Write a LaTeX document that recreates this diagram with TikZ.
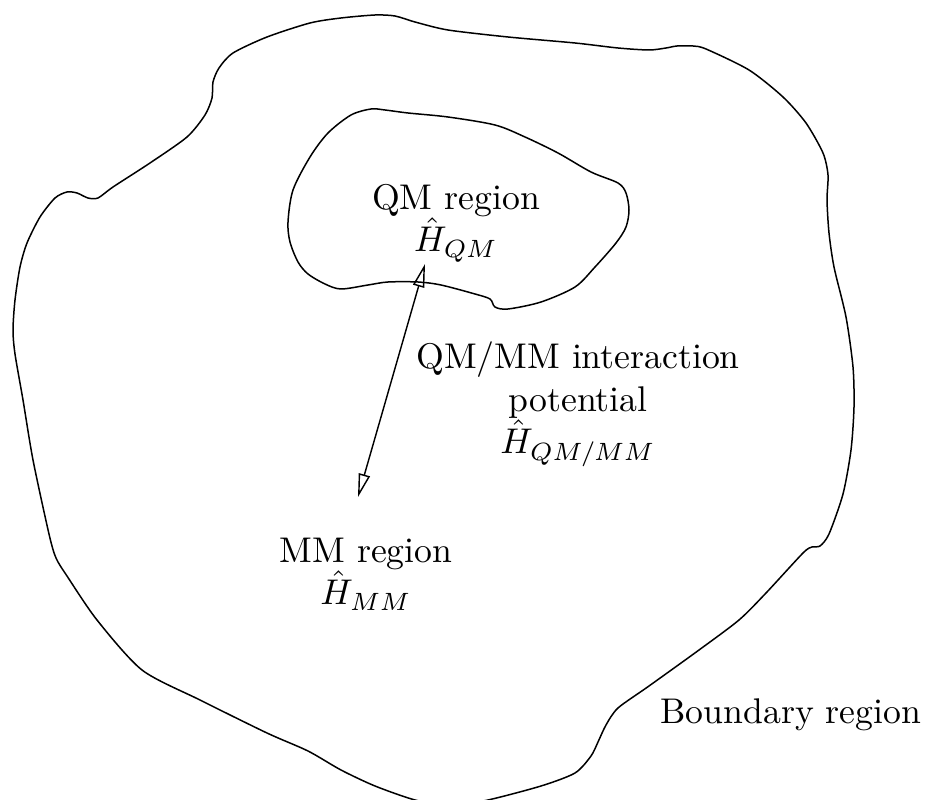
\documentclass[tikz,border=0pt]{standalone}
\usetikzlibrary{arrows.meta}
\begin{document}
\begin{tikzpicture}[x=0.28pt,y=-0.28pt,
  region/.style={line width=0.42pt, line join=round},
  lbl/.style={inner sep=0pt, align=center},
  link/.style={line width=0.4pt, {Triangle[open,length=6.5pt,width=3.2pt]}-{Triangle[open,length=6.5pt,width=3.2pt]}}]
\useasboundingbox (0,0) rectangle (926,800);
% outer boundary
\draw[region] plot[smooth cycle, tension=0.45] coordinates {
 (212,98) (213,82) (219,68) (233,53) (267,37) (310,23) (341,18) (375,15)
 (395,16) (415,22) (448,30) (508,37) (575,43) (618,48) (649,50) (666,48)
 (677,46) (693,46) (706,49) (749,70) (783,97) (806,123) (823,153) (828,175)
 (827,200) (829,233) (834,267) (846,317) (853,367) (854,407) (851,450)
 (843,494) (829,534) (820,546) (812,547) (803,553) (766,593) (739,620)
 (699,650) (649,686) (618,708) (606,725) (598,742) (591,756) (575,773)
 (541,786) (488,800) (450,806) (415,800) (375,786) (341,770) (308,751)
 (267,733) (200,700) (142,670) (97,620) (67,576) (56,558) (49,534)
 (33,460) (23,400) (15,354) (13,330) (15,300) (20,267) (27,243) (40,217)
 (55,198) (67,192) (77,193) (88,198) (98,198) (113,187) (150,163) (187,137)
 (205,115)};
% QM region boundary
\draw[region] plot[smooth cycle, tension=0.5] coordinates {
 (371,109) (385,110) (408,113) (448,117) (495,125) (525,137) (558,153)
 (591,172) (618,183) (626,193) (629,210) (626,227) (616,243) (595,267)
 (575,287) (541,302) (508,309) (495,307) (490,299) (475,294) (441,285)
 (418,282) (388,282) (368,285) (341,289) (325,284) (308,274) (298,262)
 (290,242) (288,222) (293,190) (310,157) (328,133) (351,115)};
\node[lbl] (qm) at (456,223) {QM region\\ $\hat{H}_{QM}$};
\node[lbl] (qmmm) at (578,404) {QM/MM interaction\\ potential\\ $\hat{H}_{QM/MM}$};
\node[lbl] (mm) at (366,574) {MM region\\ $\hat{H}_{MM}$};
\node[lbl, anchor=east] (bd) at (922,715) {Boundary region};
\coordinate (tipA) at (425,264);
\coordinate (tipB) at (358,497);
\draw[link] (tipB) -- (tipA);
\end{tikzpicture}
\end{document}
